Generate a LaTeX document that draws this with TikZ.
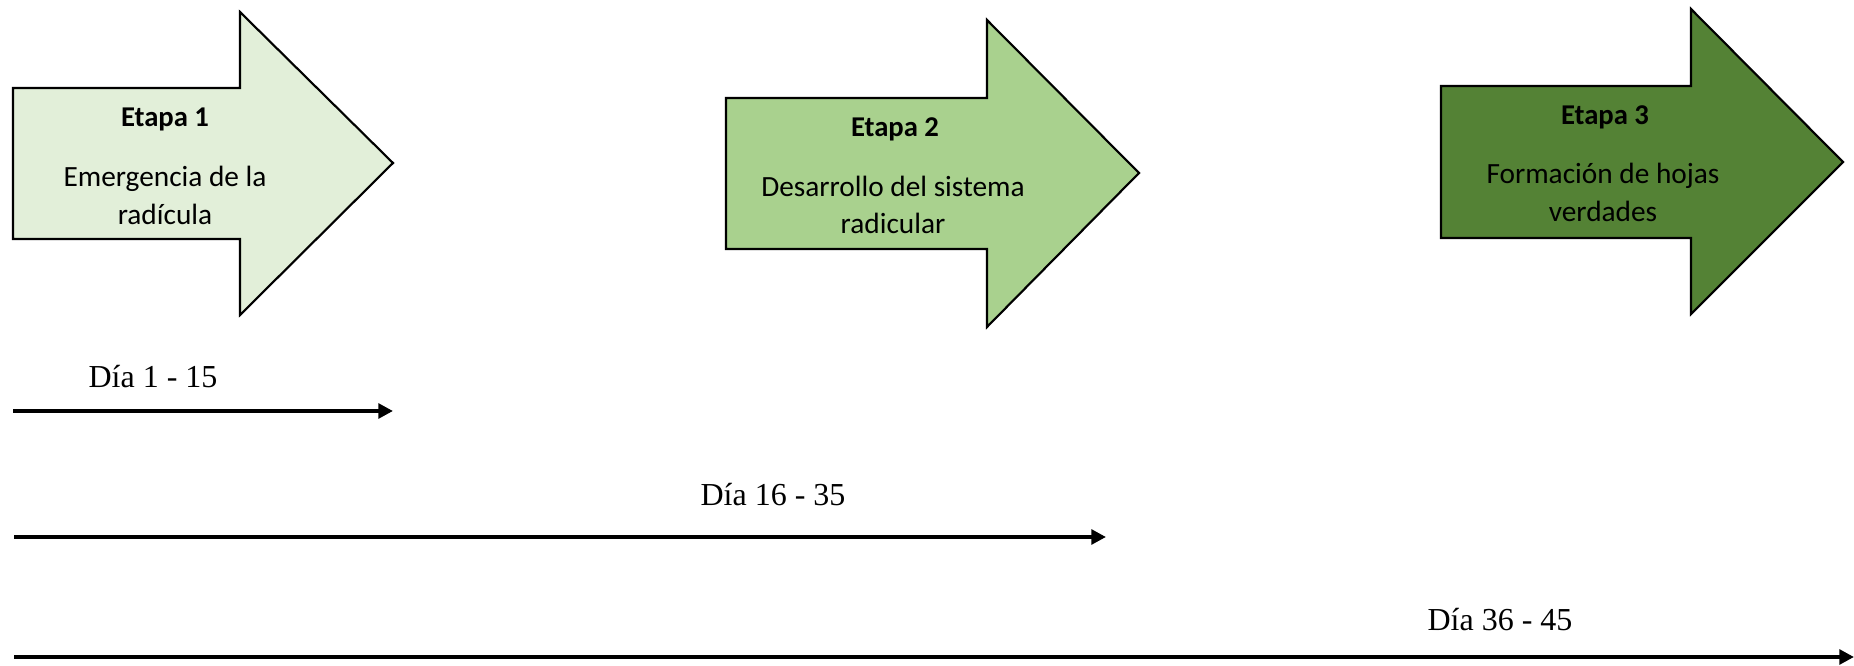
\documentclass[tikz,border=0pt]{standalone}
\usepackage{fontspec}
\setmainfont{Liberation Serif}
\newfontfamily\stagefont{Carlito}
\usetikzlibrary{arrows.meta}
\definecolor{stageA}{HTML}{E2EFD9}
\definecolor{stageB}{HTML}{A9D18E}
\definecolor{stageC}{HTML}{548235}
\tikzset{
  stagearrow/.style={draw=black, line width=1.6pt, line join=miter},
  stagetitle/.style={anchor=base, font=\stagefont\bfseries\fontsize{21.5}{25}\selectfont, inner sep=0pt},
  stagebody/.style={anchor=base, font=\stagefont\fontsize{22}{28}\selectfont, inner sep=0pt},
  daylabel/.style={anchor=base, font=\fontsize{24}{28}\selectfont, inner sep=0pt},
  timeline/.style={line width=3.6pt, -{Triangle[length=11pt,width=11pt]}}
}
\begin{document}
\begin{tikzpicture}[x=0.75pt,y=-0.75pt]
\useasboundingbox (0,0) rectangle (1854,666);
% stage arrows
\draw[stagearrow, fill=stageA] (13,88) -- (240,88) -- (240,12) -- (393,163) -- (240,315) -- (240,239) -- (13,239) -- cycle;
\draw[stagearrow, fill=stageB] (726,98) -- (987,98) -- (987,20) -- (1139,173) -- (987,327) -- (987,249) -- (726,249) -- cycle;
\draw[stagearrow, fill=stageC] (1441,86) -- (1691,86) -- (1691,9) -- (1843,162) -- (1691,314) -- (1691,238) -- (1441,238) -- cycle;
% stage texts
\node[stagetitle] (t1) at (165,127) {Etapa 1};
\node[stagebody] (b1a) at (165,187) {Emergencia de la};
\node[stagebody] (b1b) at (165,225) {radícula};
\node[stagetitle] (t2) at (895,137) {Etapa 2};
\node[stagebody] (b2a) at (893,197) {Desarrollo del sistema};
\node[stagebody] (b2b) at (893,234) {radicular};
\node[stagetitle] (t3) at (1605,125) {Etapa 3};
\node[stagebody] (b3a) at (1603,184) {Formación de hojas};
\node[stagebody] (b3b) at (1603,222) {verdades};
% time spans
\coordinate (s1) at (13,411);
\coordinate (e1) at (393,411);
\coordinate (s2) at (14,537);
\coordinate (e2) at (1106,537);
\coordinate (s3) at (14,657);
\coordinate (e3) at (1854,657);
\draw[timeline] (s1) -- (e1);
\draw[timeline] (s2) -- (e2);
\draw[timeline] (s3) -- (e3);
\node[daylabel] (d1) at (153,388) {Día 1 - 15};
\node[daylabel] (d2) at (773,506) {Día 16 - 35};
\node[daylabel] (d3) at (1500,630) {Día 36 - 45};
\end{tikzpicture}
\end{document}
